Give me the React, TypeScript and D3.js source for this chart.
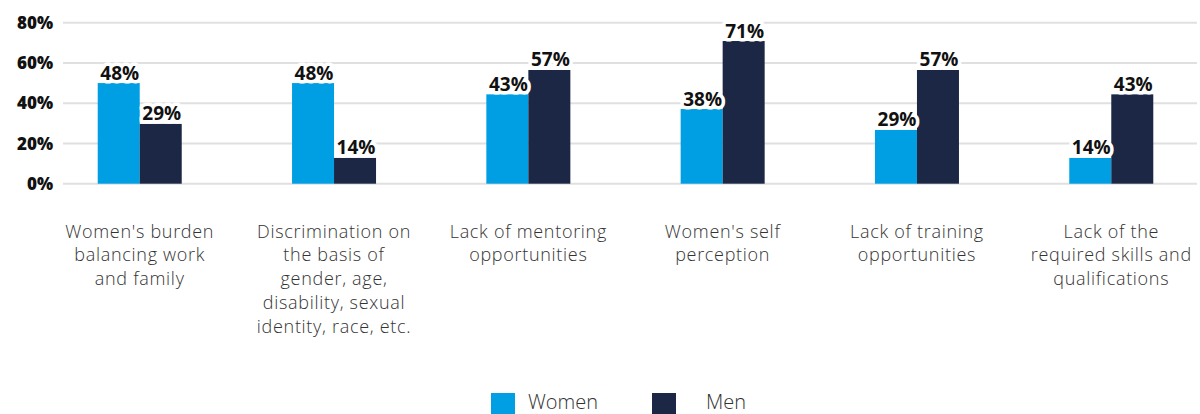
import { useEffect } from 'react';
import * as d3 from 'd3';

// categories, one array of lines per group
const categories = [
  ["Women's burden", 'balancing work', 'and family'],
  ['Discrimination on', 'the basis of', 'gender, age,', 'disability, sexual', 'identity, race, etc.'],
  ['Lack of mentoring', 'opportunities'],
  ["Women's self", 'perception'],
  ['Lack of training', 'opportunities'],
  ['Lack of the', 'required skills and', 'qualifications'],
];
const series = ['Women', 'Men'];
// bar heights as drawn
const womenValues = [50, 50, 44.4, 37.1, 26.7, 12.8];
const menValues = [29.7, 12.8, 56.5, 70.9, 56.5, 44.4];
// printed labels
const womenLabels = ['48%', '48%', '43%', '38%', '29%', '14%'];
const menLabels = ['29%', '14%', '57%', '71%', '57%', '43%'];
const yTicks = [0, 20, 40, 60, 80];

const colors = { Women: '#009fe3', Men: '#1b2744' };

function App() {
  const width = 1200;
  const height = 414;

  useEffect(() => {
    document.body.style.margin = '0';
  }, []);

  const keys = categories.map((c) => c.join(' '));
  const x = d3.scalePoint().domain(keys).range([62, 1189]).padding(0.4);
  const inner = d3.scaleBand().domain(series).range([-42, 42]).padding(0);
  const y = d3.scaleLinear().domain([0, 80]).range([183.7, 22.7]);

  const rows = series.map((s) => ({
    name: s,
    values: s === 'Women' ? womenValues : menValues,
    labels: s === 'Women' ? womenLabels : menLabels,
  }));

  return (
    <svg width={width} height={height} style={{ display: 'block' }}>
      <g>
        {yTicks.map((t) => (
          <g key={t}>
            <line x1={63} x2={1197} y1={y(t)} y2={y(t)} stroke='#e0e0e0' strokeWidth={2} />
            <text
              x={53}
              y={y(t)}
              dy='0.36em'
              textAnchor='end'
              fontFamily='"Open Sans", sans-serif'
              fontWeight={800}
              fontSize={17}
              fill='#111'
            >
              {t}%
            </text>
          </g>
        ))}
      </g>
      {rows.map((r) => (
        <g key={r.name}>
          {r.values.map((v, i) => (
            <rect
              key={i}
              x={x(keys[i])! + inner(r.name)!}
              y={y(v)}
              width={inner.bandwidth()}
              height={y(0) - y(v)}
              fill={colors[r.name]}
            />
          ))}
        </g>
      ))}
      {rows.map((r) => (
        <g key={r.name + '-labels'}>
          {r.values.map((v, i) => (
            <text
              key={i}
              x={x(keys[i])! + inner(r.name)! + inner.bandwidth() / 2 + 1}
              y={y(v) - 3.5}
              textAnchor='middle'
              fontFamily='"Open Sans", sans-serif'
              fontWeight={700}
              fontSize={19}
              fill='#111'
              stroke='#fff'
              strokeWidth={7}
              paintOrder='stroke'
              strokeLinejoin='round'
            >
              {r.labels[i]}
            </text>
          ))}
        </g>
      ))}
      <g>
        {categories.map((lines, i) => (
          <text
            key={i}
            x={x(keys[i])!}
            y={237.5}
            textAnchor='middle'
            fontFamily='"Open Sans", sans-serif'
            fontWeight={300}
            fontSize={18}
            letterSpacing={0.7}
            fill='#333'
          >
            {lines.map((l, j) => (
              <tspan key={j} x={x(keys[i])!} dy={j === 0 ? 0 : 23.9}>
                {l}
              </tspan>
            ))}
          </text>
        ))}
      </g>
      <g>
        {series.map((s, i) => {
          const lx = i === 0 ? 491 : 652;
          return (
            <g key={s}>
              <rect x={lx} y={393} width={24} height={24} fill={colors[s]} />
              <text
                x={lx + (i === 0 ? 37 : 54)}
                y={409}
                fontFamily='"Open Sans", sans-serif'
                fontWeight={300}
                fontSize={20}
                fill='#333'
              >
                {s}
              </text>
            </g>
          );
        })}
      </g>
    </svg>
  );
}

export default App;
